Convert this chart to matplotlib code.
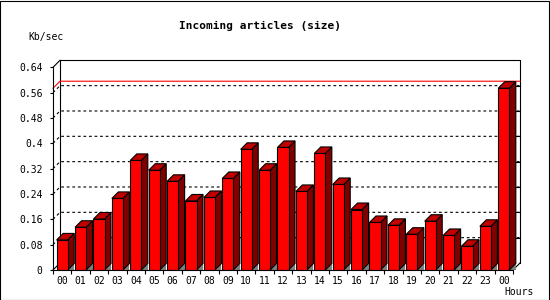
import matplotlib
matplotlib.use("Agg")
import matplotlib.pyplot as plt
from matplotlib.patches import Polygon, Rectangle

# data (Kb/sec per hour)
hours = ["00", "01", "02", "03", "04", "05", "06", "07", "08", "09", "10", "11",
         "12", "13", "14", "15", "16", "17", "18", "19", "20", "21", "22", "23", "00"]
kbsec = [0.095, 0.135, 0.161, 0.226, 0.346, 0.315, 0.280, 0.218, 0.229, 0.289,
         0.381, 0.315, 0.387, 0.248, 0.368, 0.270, 0.191, 0.150, 0.141, 0.113,
         0.154, 0.109, 0.075, 0.138, 0.574]
yticks = [0, 0.08, 0.16, 0.24, 0.32, 0.4, 0.48, 0.56, 0.64]
ytick_labels = ["0", "0.08", "0.16", "0.24", "0.32", "0.4", "0.48", "0.56", "0.64"]

mono = "DejaVu Sans Mono"
lw = 0.8

fig = plt.figure(figsize=(5.5, 3.0), dpi=100)
fig.patch.set_facecolor("white")

# depth of the 3d look, in data units (about 7 px)
slot = 18.4
ppu = 316.7
dx = 7 / slot
dy = 7 / ppu
bdx = 6.5 / slot
bdy = 6.5 / ppu
w = 0.6

n = len(kbsec)
ax = fig.add_axes([53 / 550, 30 / 300, (n * slot + 7) / 550, (0.64 * ppu + 7) / 300])
ax.set_xlim(-0.5, n - 0.5 + dx)
ax.set_ylim(0, 0.64 + dy)
ax.set_facecolor("none")

# back wall
ax.plot([-0.5 + dx, -0.5 + dx, n - 0.5 + dx, n - 0.5 + dx],
        [dy, 0.64 + dy, 0.64 + dy, dy], color="black", lw=lw, clip_on=False, zorder=1)
ax.plot([-0.5, -0.5 + dx], [0.64, 0.64 + dy], color="black", lw=lw, clip_on=False, zorder=1)
ax.plot([-0.5, -0.5 + dx], [0, dy], color="black", lw=lw, clip_on=False, zorder=1)
ax.plot([n - 0.5, n - 0.5 + dx], [0, dy], color="black", lw=lw, clip_on=False, zorder=1)

# grid lines on the wall
for t in yticks[1:-1]:
    ax.plot([-0.5, -0.5 + dx, n - 0.5 + dx], [t, t + dy, t + dy], color="black",
            lw=lw, ls=(0, (2.5, 2.5)), clip_on=False, zorder=1)
    ax.plot([n - 0.5 + dx - 0.2, n - 0.5 + dx], [t + dy, t + dy], color="black",
            lw=lw, clip_on=False, zorder=1)

# max line
vmax = max(kbsec)
ax.plot([-0.5, -0.5 + dx, n - 0.5 + dx], [vmax, vmax + dy, vmax + dy], color="red",
        lw=lw, clip_on=False, zorder=2)

# bars
for i, v in enumerate(kbsec):
    x0 = i - w / 2
    x1 = i + w / 2
    ax.add_patch(Polygon([(x1, 0), (x1 + bdx, 0), (x1 + bdx, bdy)], closed=True,
                         facecolor="#808080", edgecolor="none", zorder=3))
    ax.add_patch(Polygon([(x1, 0), (x1 + bdx, bdy), (x1 + bdx, v + bdy), (x1, v)],
                         closed=True, facecolor="#800000", edgecolor="black", lw=lw, zorder=3))
    ax.add_patch(Polygon([(x0, v), (x1, v), (x1 + bdx, v + bdy), (x0 + bdx, v + bdy)],
                         closed=True, facecolor="#c00000", edgecolor="black", lw=lw, zorder=3))
    ax.add_patch(Rectangle((x0, 0), w, v, facecolor="#ff0000", edgecolor="black",
                           lw=lw, zorder=4))

# front axes
for s in ["top", "right"]:
    ax.spines[s].set_visible(False)
ax.spines["left"].set_bounds(0, 0.64)
ax.spines["bottom"].set_bounds(-0.5, n - 0.5)
ax.spines["left"].set_linewidth(lw)
ax.spines["bottom"].set_linewidth(lw)
ax.spines["left"].set_zorder(5)
ax.spines["bottom"].set_zorder(5)

ax.set_yticks(yticks)
ax.set_yticklabels(ytick_labels, fontfamily=mono, fontsize=7)
ax.tick_params(axis="y", length=2.5, width=lw, pad=5)

ax.set_xticks([i - 0.5 for i in range(n + 1)])
ax.set_xticklabels([])
ax.set_xticks(list(range(n)), minor=True)
ax.set_xticklabels(hours, minor=True, fontfamily=mono, fontsize=7)
ax.tick_params(axis="x", which="major", length=3, width=lw)
ax.tick_params(axis="x", which="minor", length=0, pad=4)

fig.text(260 / 550, 1 - 26 / 300, "Incoming articles (size)", ha="center", va="center",
         fontfamily=mono, fontweight="bold", fontsize=8)
fig.text(28 / 550, 1 - 37 / 300, "Kb/sec", ha="left", va="center", fontfamily=mono, fontsize=7)
fig.text(504 / 550, 1 - 292 / 300, "Hours", ha="left", va="center", fontfamily=mono, fontsize=7)

# outer frame
fig.patches.append(Rectangle((0.0005, 0.001), 0.9975, 0.996, transform=fig.transFigure,
                             fill=False, edgecolor="black", lw=lw))

fig.savefig("out.png", dpi=100)
